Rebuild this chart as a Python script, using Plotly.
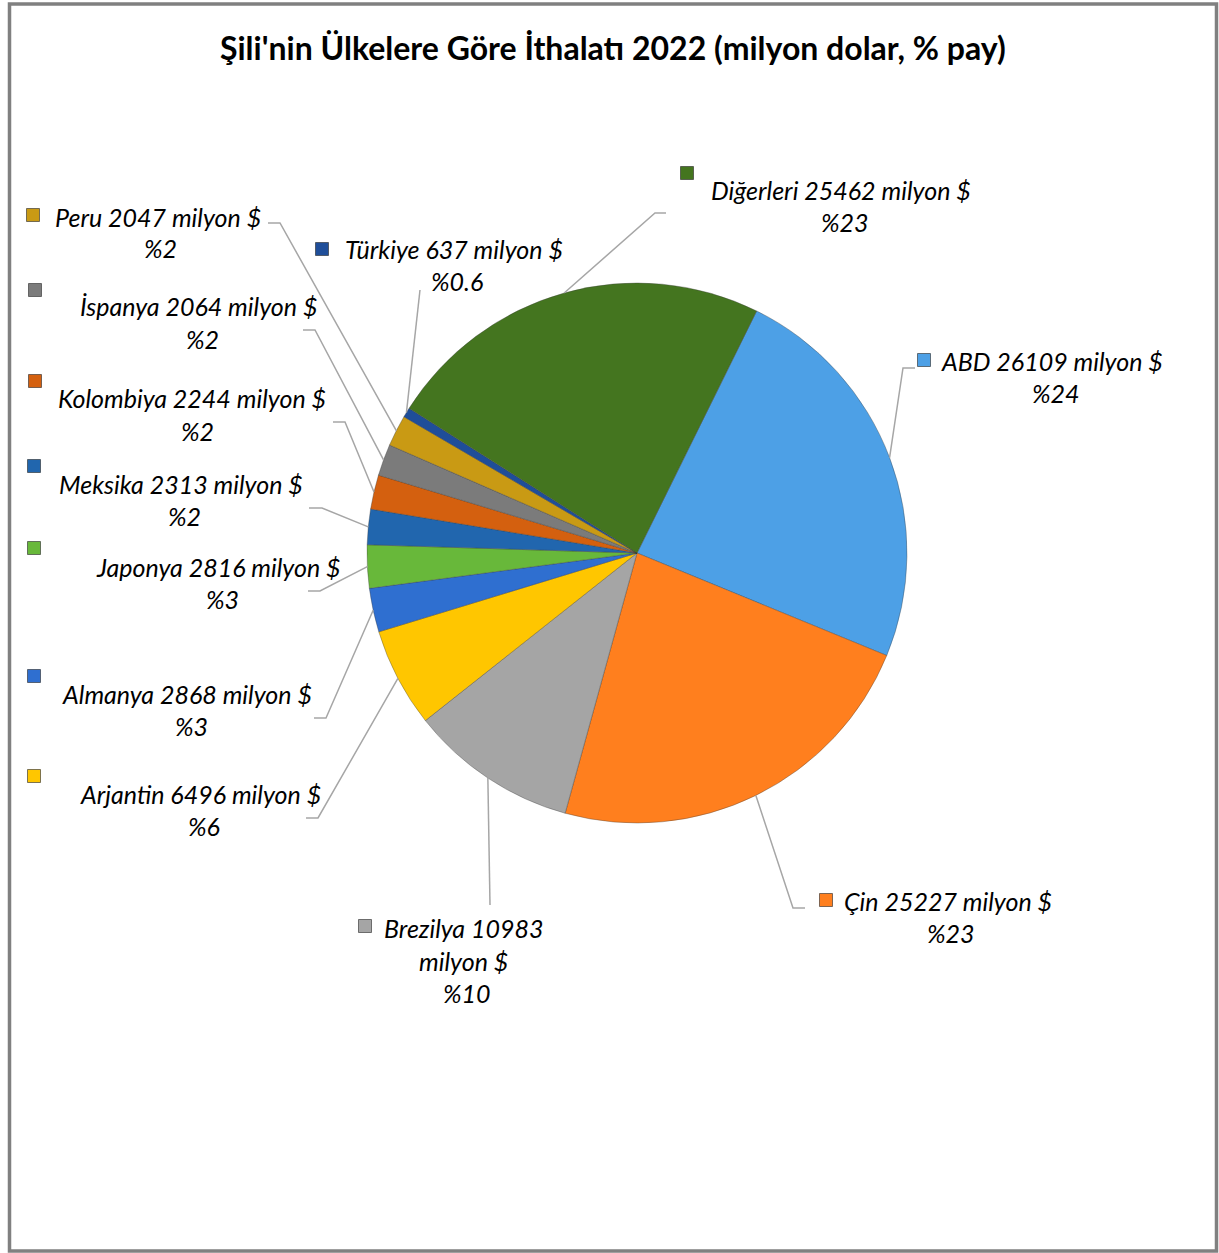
import math
import plotly.graph_objects as go

# ---------------- data ----------------
countries = ["ABD", "Çin", "Brezilya", "Arjantin", "Almanya", "Japonya",
             "Meksika", "Kolombiya", "İspanya", "Peru", "Türkiye", "Diğerleri"]
values = [26109, 25227, 10983, 6496, 2868, 2816, 2313, 2244, 2064, 2047, 637, 25462]
pct_labels = ["%24", "%23", "%10", "%6", "%3", "%3", "%2", "%2", "%2", "%2", "%0.6", "%23"]
title_text = "Şili'nin Ülkelere Göre İthalatı 2022 (milyon dolar, % pay)"

colors = ["#4DA0E6", "#FF7F1E", "#A5A5A5", "#FFC600", "#2F6FD0", "#68B83A",
          "#2166AE", "#D4600F", "#7B7B7B", "#C99A14", "#1F4E99", "#44751F"]

# ---------------- layout constants (pixels) ----------------
W, H = 1219, 1253
CX, CY, R = 637, 553, 270
ROT = 26.3

def px(x):
    return x / W

def py(y):
    return 1 - y / H

# label layout: lines of text with centre positions, square marker position,
# leader elbow + end point
label_layout = {
    "ABD":       dict(lines=[(1052, 361), (1056, 393)], sq=(924, 360), elbow=(903, 368), end=(915, 368)),
    "Çin":       dict(lines=[(948, 901), (951, 933)], sq=(826, 900), elbow=(793, 908), end=(805, 908)),
    "Brezilya":  dict(lines=[(464, 928), (464, 961), (467, 993)], sq=(365, 926), elbow=(490, 905), end=None),
    "Arjantin":  dict(lines=[(200, 794), (204, 826)], sq=(34, 776), elbow=(318, 818), end=(306, 818)),
    "Almanya":   dict(lines=[(187, 694), (191, 726)], sq=(34, 676), elbow=(326, 718), end=(314, 718)),
    "Japonya":   dict(lines=[(218, 567), (222, 599)], sq=(34, 548), elbow=(320, 591), end=(308, 591)),
    "Meksika":   dict(lines=[(181, 484), (184, 516)], sq=(34, 466), elbow=(322, 508), end=(309, 508)),
    "Kolombiya": dict(lines=[(192, 398), (197, 431)], sq=(35, 381), elbow=(345, 422), end=(333, 422)),
    "İspanya":   dict(lines=[(198, 306), (202, 339)], sq=(35, 290), elbow=(315, 330), end=(303, 330)),
    "Peru":      dict(lines=[(158, 217), (160, 248)], sq=(33, 215), elbow=(280, 223), end=(268, 223)),
    "Türkiye":   dict(lines=[(454, 249), (457, 281)], sq=(322, 249), elbow=(420, 290), end=None),
    "Diğerleri": dict(lines=[(841, 190), (845, 222)], sq=(687, 173), elbow=(655, 213), end=(666, 213)),
}

FONT = "Lato, 'Open Sans', 'DejaVu Sans', sans-serif"

fig = go.Figure()
fig.add_trace(go.Pie(
    labels=countries,
    values=values,
    sort=False,
    direction="clockwise",
    rotation=ROT,
    marker=dict(colors=colors, line=dict(color="rgba(60,60,60,0.45)", width=0.8)),
    textinfo="none",
    hoverinfo="label+value+percent",
    showlegend=False,
    domain=dict(x=[px(CX - R), px(CX + R)], y=[py(CY + R), py(CY - R)]),
))

shapes = []
annotations = []

# frame
shapes.append(dict(type="rect", xref="paper", yref="paper",
                   x0=px(9.5), x1=px(1216.5), y0=py(1251), y1=py(4),
                   line=dict(color="#808080", width=3.5), fillcolor="rgba(0,0,0,0)"))

total = sum(values)
cum = 0.0
for name, val, pct, col in zip(countries, values, pct_labels, colors):
    mid = ROT + 360.0 * (cum + val / 2) / total
    cum += val
    a = math.radians(mid)
    ex, ey = CX + R * math.sin(a), CY - R * math.cos(a)
    lay = label_layout[name]
    pts = [(ex, ey), lay["elbow"]]
    if lay["end"] is not None:
        pts.append(lay["end"])
    path = "M " + " L ".join(f"{px(x):.5f},{py(y):.5f}" for x, y in pts)
    shapes.append(dict(type="path", xref="paper", yref="paper", path=path,
                       line=dict(color="#A6A6A6", width=1.5)))
    # square marker
    sx, sy = lay["sq"]
    shapes.append(dict(type="rect", xref="paper", yref="paper",
                       x0=px(sx - 6.5), x1=px(sx + 6.5), y0=py(sy + 6.5), y1=py(sy - 6.5),
                       fillcolor=col, line=dict(color="rgba(40,40,40,0.6)", width=1)))
    # text lines
    if name == "Brezilya":
        texts = [f"{name} {val}", "milyon $", pct]
    else:
        texts = [f"{name} {val} milyon $", pct]
    for t, (tx, ty) in zip(texts, lay["lines"]):
        annotations.append(dict(x=px(tx), y=py(ty), xref="paper", yref="paper",
                                text=f"<i>{t}</i>", showarrow=False,
                                xanchor="center", yanchor="middle",
                                font=dict(family=FONT, size=25, color="#000000")))

# title
annotations.append(dict(x=px(613), y=py(47), xref="paper", yref="paper",
                        text=f"<b>{title_text}</b>", showarrow=False,
                        xanchor="center", yanchor="middle",
                        font=dict(family=FONT, size=32, color="#000000")))

fig.update_layout(
    width=W, height=H,
    margin=dict(l=0, r=0, t=0, b=0),
    paper_bgcolor="white",
    plot_bgcolor="white",
    shapes=shapes,
    annotations=annotations,
    showlegend=False,
)

fig.write_html("out.html",
               config={"displayModeBar": False},
               post_script="document.body.style.margin='0';document.body.style.overflow='hidden';")
